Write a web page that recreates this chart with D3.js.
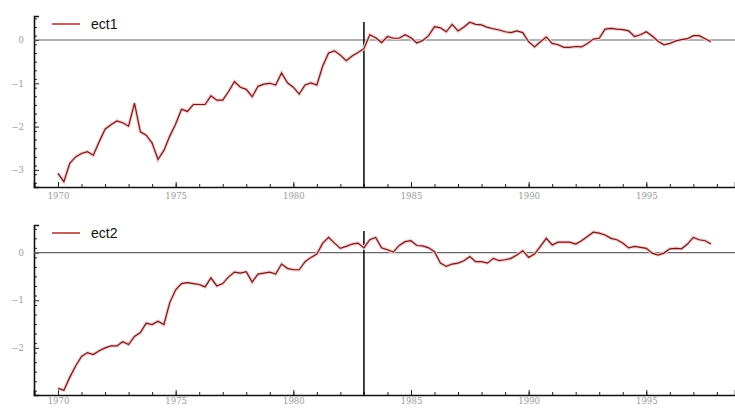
<!DOCTYPE html>
<html>
<head>
<meta charset="utf-8">
<title></title>
<script src="https://d3js.org/d3.v7.min.js"></script>
<style>
body { margin: 0; background: #fff; }
svg { display: block; }
.tick text { fill: #9a9a9a; font-family: "DejaVu Serif", serif; font-size: 8.5px; }
.legend { font-family: "Liberation Sans", Arial, sans-serif; font-size: 14px; fill: #111; }
</style>
</head>
<body>
<div id="chart"></div>
<script type="text/javascript">
// quarterly series, 1970Q1 .. 1997Q4
var startYear = 1970;
var breakYear = 1983;

var ect1 = [-3.08, -3.27, -2.85, -2.70, -2.62, -2.58, -2.66, -2.35, -2.06, -1.96,
  -1.87, -1.91, -1.99, -1.46, -2.12, -2.20, -2.38, -2.76, -2.55, -2.22,
  -1.94, -1.60, -1.65, -1.49, -1.49, -1.49, -1.29, -1.39, -1.39, -1.19,
  -0.96, -1.09, -1.14, -1.31, -1.07, -1.02, -1.00, -1.04, -0.76, -0.99,
  -1.09, -1.25, -1.04, -0.99, -1.04, -0.60, -0.30, -0.25, -0.35, -0.48,
  -0.37, -0.29, -0.20, 0.12, 0.05, -0.06, 0.08, 0.04, 0.04, 0.12,
  0.05, -0.07, -0.01, 0.10, 0.31, 0.28, 0.19, 0.36, 0.21, 0.30,
  0.41, 0.36, 0.35, 0.29, 0.26, 0.23, 0.19, 0.17, 0.21, 0.17,
  -0.04, -0.16, -0.04, 0.07, -0.08, -0.11, -0.17, -0.17, -0.15, -0.16,
  -0.08, 0.02, 0.04, 0.25, 0.27, 0.25, 0.24, 0.21, 0.08, 0.12,
  0.19, 0.09, -0.03, -0.11, -0.08, -0.02, 0.01, 0.03, 0.10, 0.10,
  0.03, -0.04];

var ect2 = [-2.85, -2.89, -2.62, -2.38, -2.18, -2.10, -2.14, -2.06, -2.00, -1.96,
  -1.96, -1.87, -1.93, -1.76, -1.68, -1.48, -1.51, -1.44, -1.51, -1.05,
  -0.78, -0.65, -0.63, -0.65, -0.67, -0.72, -0.53, -0.70, -0.65, -0.51,
  -0.41, -0.43, -0.40, -0.62, -0.45, -0.43, -0.41, -0.45, -0.24, -0.33,
  -0.36, -0.36, -0.19, -0.10, -0.03, 0.20, 0.32, 0.20, 0.09, 0.13,
  0.18, 0.20, 0.10, 0.27, 0.32, 0.10, 0.06, 0.01, 0.15, 0.23,
  0.25, 0.15, 0.14, 0.10, 0.02, -0.22, -0.29, -0.24, -0.22, -0.17,
  -0.08, -0.19, -0.19, -0.22, -0.12, -0.17, -0.15, -0.12, -0.05, 0.04,
  -0.10, -0.03, 0.13, 0.30, 0.16, 0.22, 0.22, 0.22, 0.18, 0.25,
  0.34, 0.43, 0.41, 0.37, 0.30, 0.27, 0.20, 0.10, 0.13, 0.11,
  0.09, -0.01, -0.05, -0.01, 0.08, 0.09, 0.08, 0.18, 0.32, 0.27,
  0.25, 0.18];

var yearTicks = [1970, 1975, 1980, 1985, 1990, 1995];

var width = 735, height = 410;

var svg = d3.select("#chart")
  .append("svg")
    .attr("width", width)
    .attr("height", height);

var x = d3.scaleLinear()
    .domain([1968.98, 1998.77])
    .range([34, 735]);

var minorYears = d3.range(1969, 1999);

function panel(series, name, top, bottom, yDomain, yMinor, yMajor, labelPad) {
  var y = d3.scaleLinear().domain(yDomain).range([bottom, top]);
  var g = svg.append("g");

  // x axis with inside ticks
  g.append("g")
    .attr("transform", "translate(0," + bottom + ")")
    .call(d3.axisBottom(x).tickValues(minorYears).tickSize(-3).tickFormat(""))
    .call(function(a) { a.select(".domain").remove(); a.selectAll("line").attr("stroke", "#222"); });
  g.append("g")
    .attr("transform", "translate(0," + bottom + ")")
    .call(d3.axisBottom(x).tickValues(yearTicks).tickSize(-5).tickPadding(labelPad).tickFormat(d3.format("d")))
    .call(function(a) {
      a.select(".domain").attr("stroke", "#111").attr("stroke-width", 1.6);
      a.selectAll("line").attr("stroke", "#222");
    });

  // y axis with inside ticks
  g.append("g")
    .attr("transform", "translate(34,0)")
    .call(d3.axisLeft(y).tickValues(yMinor).tickSize(-3).tickFormat(""))
    .call(function(a) { a.select(".domain").remove(); a.selectAll("line").attr("stroke", "#222"); });
  g.append("g")
    .attr("transform", "translate(34,0)")
    .call(d3.axisLeft(y).tickValues(yMajor).tickSize(-5).tickPadding(10).tickFormat(d3.format("d")))
    .call(function(a) {
      a.select(".domain").attr("stroke", "#111").attr("stroke-width", 1.6);
      a.selectAll("line").attr("stroke", "#222");
    });

  // zero line
  g.append("line")
    .attr("x1", x.range()[0]).attr("x2", x.range()[1])
    .attr("y1", y(0)).attr("y2", y(0))
    .attr("stroke", "#666").attr("stroke-width", 1.2);

  // break line
  g.append("line")
    .attr("x1", x(breakYear)).attr("x2", x(breakYear))
    .attr("y1", top + 6).attr("y2", bottom)
    .attr("stroke", "#111").attr("stroke-width", 1.6);

  var line = d3.line()
    .x(function(d, i) { return x(startYear + i / 4); })
    .y(function(d) { return y(d); });

  g.append("path")
    .datum(series)
    .attr("fill", "none")
    .attr("stroke", "#f6cccc")
    .attr("stroke-width", 3.5)
    .attr("d", line);
  g.append("path")
    .datum(series)
    .attr("fill", "none")
    .attr("stroke", "#6e1a1a")
    .attr("stroke-width", 1.2)
    .attr("d", line);

  // legend
  g.append("line")
    .attr("x1", 52).attr("x2", 80)
    .attr("y1", top + 8).attr("y2", top + 8)
    .attr("stroke", "#a02020").attr("stroke-width", 1.4);
  g.append("text")
    .attr("class", "legend")
    .attr("x", 91).attr("y", top + 13)
    .text(name);
}

panel(ect1, "ect1", 16, 187, [-3.395, 0.554],
  d3.range(-33, 6, 2).map(function(v) { return v / 10; }).filter(function(v) { return v % 1 !== 0; }),
  [-3, -2, -1, 0], 6);
panel(ect2, "ect2", 225, 395, [-2.99, 0.58],
  d3.range(-29, 6, 2).map(function(v) { return v / 10; }).filter(function(v) { return v % 1 !== 0; }),
  [-2, -1, 0], 3);
</script>
</body>
</html>
